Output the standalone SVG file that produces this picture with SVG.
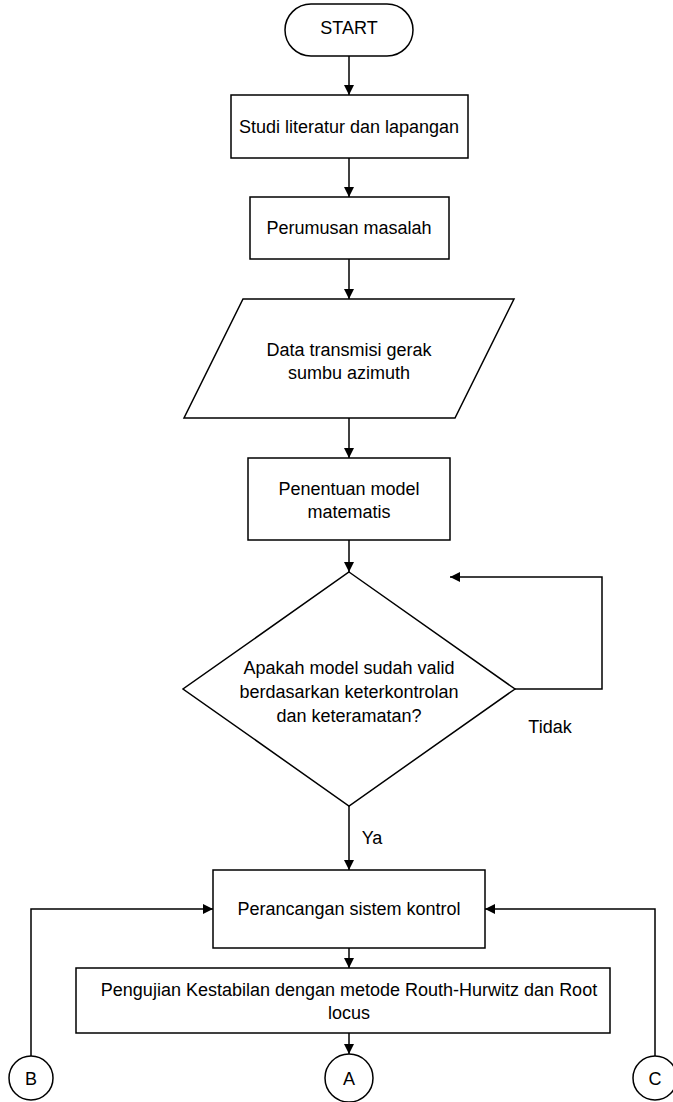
<svg xmlns="http://www.w3.org/2000/svg" width="673" height="1102" viewBox="0 0 673 1102">
<style>
.s{fill:#fff;stroke:#000;stroke-width:1.5}
.c{fill:none;stroke:#000;stroke-width:1.5}
text{font-family:"Liberation Sans",Arial,sans-serif;font-size:18px;fill:#000;text-anchor:middle;dominant-baseline:central}
</style>
<defs>
<marker id="ah" viewBox="0 0 10 10" refX="10" refY="5" markerWidth="10" markerHeight="10" markerUnits="userSpaceOnUse" orient="auto">
<path d="M0,0 L10,5 L0,10 z" fill="#000"/>
</marker>
</defs>
<rect width="673" height="1102" fill="#fff"/>
<g id="connectors">
<line class="c" x1="349" y1="56" x2="349" y2="95" marker-end="url(#ah)"/>
<line class="c" x1="349" y1="158" x2="349" y2="197" marker-end="url(#ah)"/>
<line class="c" x1="349" y1="259" x2="349" y2="299" marker-end="url(#ah)"/>
<line class="c" x1="349" y1="418" x2="349" y2="458" marker-end="url(#ah)"/>
<line class="c" x1="349" y1="540" x2="349" y2="572" marker-end="url(#ah)"/>
<polyline class="c" points="515,689 602,689 602,577 450,577" marker-end="url(#ah)"/>
<line class="c" x1="349" y1="806" x2="349" y2="870" marker-end="url(#ah)"/>
<line class="c" x1="349" y1="948" x2="349" y2="968" marker-end="url(#ah)"/>
<line class="c" x1="349" y1="1033" x2="349" y2="1054" marker-end="url(#ah)"/>
<polyline class="c" points="31,1056 31,909 213,909" marker-end="url(#ah)"/>
<polyline class="c" points="655,1056 655,909 485,909" marker-end="url(#ah)"/>
<text x="550" y="727">Tidak</text>
<text x="372" y="838">Ya</text>
</g>
<g id="start">
<rect class="s" x="285" y="4" width="128" height="52" rx="26"/>
<text x="349" y="28">START</text>
</g>
<g id="studi">
<rect class="s" x="231" y="95" width="237" height="63"/>
<text x="349" y="127">Studi literatur dan lapangan</text>
</g>
<g id="perumusan">
<rect class="s" x="250" y="197" width="199" height="62"/>
<text x="349" y="228">Perumusan masalah</text>
</g>
<g id="data">
<polygon class="s" points="243,299 514,299 455,418 184,418"/>
<text x="349" y="350">Data transmisi gerak</text>
<text x="349" y="373">sumbu azimuth</text>
</g>
<g id="penentuan">
<rect class="s" x="248" y="458" width="202" height="82"/>
<text x="349" y="489">Penentuan model</text>
<text x="349" y="512">matematis</text>
</g>
<g id="decision">
<polygon class="s" points="349,572 515,689 349,806 183,689"/>
<text x="349" y="668">Apakah model sudah valid</text>
<text x="349" y="692">berdasarkan keterkontrolan</text>
<text x="349" y="716">dan keteramatan?</text>
</g>
<g id="perancangan">
<rect class="s" x="213" y="870" width="272" height="78"/>
<text x="349" y="909">Perancangan sistem kontrol</text>
</g>
<g id="pengujian">
<rect class="s" x="76" y="968" width="534" height="65"/>
<text x="349" y="990">Pengujian Kestabilan dengan metode Routh-Hurwitz dan Root</text>
<text x="349" y="1013">locus</text>
</g>
<g id="A">
<circle class="s" cx="349" cy="1078" r="24"/>
<text x="349" y="1079">A</text>
</g>
<g id="B">
<circle class="s" cx="31" cy="1078" r="22"/>
<text x="31" y="1079">B</text>
</g>
<g id="C">
<circle class="s" cx="655" cy="1078" r="22"/>
<text x="655" y="1079">C</text>
</g>
</svg>
